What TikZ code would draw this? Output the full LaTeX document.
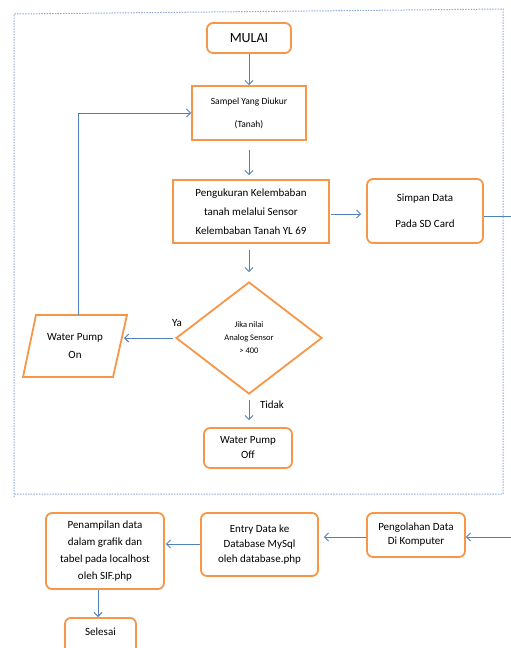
\documentclass[tikz,border=0pt]{standalone}
\usepackage{fontspec}
\setmainfont{Carlito}
\usetikzlibrary{arrows.meta,shapes.geometric}
\definecolor{boxor}{HTML}{F79646}
\definecolor{lineb}{HTML}{4F81BD}
\definecolor{frameb}{HTML}{8EAADB}
\tikzset{
  box/.style={draw=boxor, line width=1.8pt, inner sep=0pt, align=center, font=\fontsize{11}{19}\selectfont},
  rbox/.style={box, rounded corners=6pt},
  arr/.style={draw=lineb, line width=0.9pt, -{Straight Barb[length=4pt,width=8pt]}},
  ln/.style={draw=lineb, line width=0.9pt},
  frame/.style={draw=frameb, line width=1pt, dash pattern=on 1.5pt off 1.2pt},
  lbl/.style={inner sep=0pt, font=\fontsize{11}{13}\selectfont}
}
\begin{document}
\begin{tikzpicture}[x=1pt,y=-1pt]
\useasboundingbox (0,0) rectangle (511,648);
% frame
\draw[frame] (14,497) -- (14,14) -- (503,9) -- (503,494) -- (14,494);
% nodes
\node[rbox, minimum width=84pt, minimum height=30pt, font=\fontsize{14}{16}\selectfont] (mulai) at (249,38) {MULAI};
\node[box, minimum width=114pt, minimum height=54pt, font=\fontsize{9.5}{11}\selectfont] (samp) at (249,113) {Sampel Yang Diukur\\[12pt](Tanah)};
\node[box, minimum width=156pt, minimum height=63pt] (ukur) at (251,211.5) {Pengukuran Kelembaban\\tanah melalui Sensor\\Kelembaban Tanah YL 69};
\node[rbox, minimum width=116pt, minimum height=64pt, font=\fontsize{11}{26}\selectfont] (simpan) at (425,211) {Simpan Data\\Pada SD Card};
\node[diamond, draw=boxor, line width=1.8pt, inner sep=0pt, minimum width=146pt, minimum height=112pt, align=center, font=\fontsize{8.5}{13}\selectfont] (dia) at (249,338) {Jika nilai\\Analog Sensor\\> 400};
% parallelogram (Water Pump On)
\draw[draw=boxor, line width=1.8pt, line join=miter] (36,315) -- (127,315) -- (113,377) -- (23,377) -- cycle;
\node[lbl, align=center, font=\fontsize{11}{18}\selectfont] (pumpon) at (75,346) {Water Pump\\On};
\coordinate (pumponE) at (124,338);
\coordinate (pumponN) at (78,315);
\node[rbox, minimum width=88pt, minimum height=40pt, font=\fontsize{11}{15}\selectfont] (pumpoff) at (248,448) {Water Pump\\Off};
\node[rbox, minimum width=98pt, minimum height=44pt, font=\fontsize{11}{14}\selectfont] (olah) at (416,535) {Pengolahan Data\\Di Komputer};
\node[rbox, minimum width=117pt, minimum height=63pt, font=\fontsize{11}{15}\selectfont] (entry) at (259.5,544.5) {Entry Data ke\\Database MySql\\oleh database.php};
\node[rbox, minimum width=118pt, minimum height=76pt, font=\fontsize{11}{17}\selectfont] (tampil) at (105,551) {Penampilan data\\dalam grafik dan\\tabel pada localhost\\oleh SIF.php};
\node[rbox, minimum width=71pt, minimum height=40pt, anchor=north] (selesai) at (100.5,617) {};
\node[lbl] (selesaitxt) at (100.5,632) {Selesai};
% labels
\node[lbl] (ya) at (177,323) {Ya};
\node[lbl] (tidak) at (272,405) {Tidak};
% free ends
\coordinate (outr) at (511,216);
\coordinate (inr) at (511,537);
% connectors
\draw[arr] (mulai.south) -- (samp.north);
\draw[arr, shorten <=9pt, shorten >=4pt] (samp.south) -- (samp.south |- ukur.north);
\draw[arr, shorten <=1pt, shorten >=5pt] (ukur.east |- 0,214) -- (simpan.west |- 0,214);
\draw[ln] (simpan.east |- outr) -- (outr);
\draw[arr, shorten <=6pt, shorten >=9pt] (dia.north |- ukur.south) -- (dia.north);
\draw[arr, shorten <=2pt] (dia.west) -- (pumponE);
\draw[arr] (pumponN) |- (samp.west);
\draw[arr, shorten <=5pt, shorten >=7pt] (dia.south) -- (dia.south |- pumpoff.north);
\draw[arr] (inr) -- (olah.east |- inr);
\draw[arr, shorten >=5pt] (olah.west |- 0,537) -- (entry.east |- 0,537);
\draw[arr, shorten >=1pt] (entry.west |- 0,544) -- (tampil.east |- 0,544);
\draw[arr] (tampil.south -| 98,0) -- (selesai.north -| 98,0);
\end{tikzpicture}
\end{document}
